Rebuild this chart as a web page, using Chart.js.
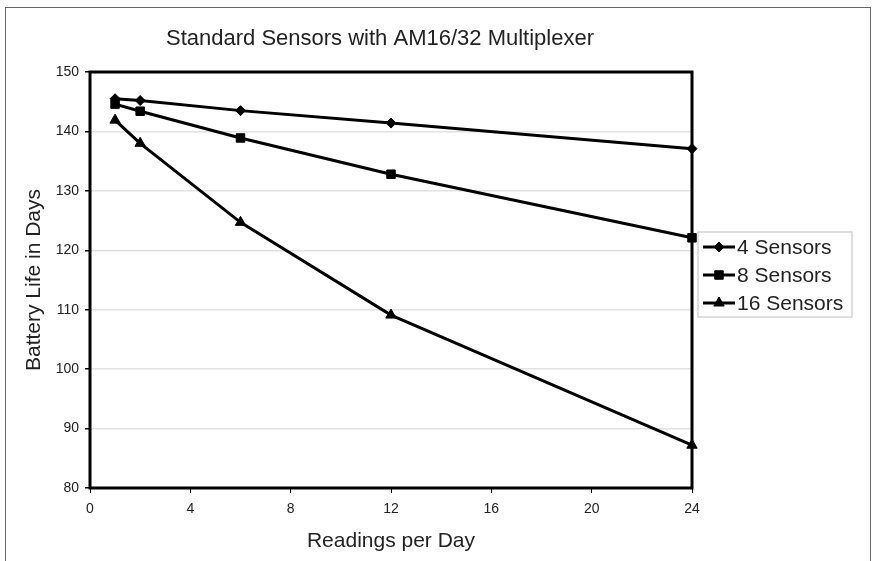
<!DOCTYPE html>
<html>
<head>
<meta charset="utf-8">
<script src="https://cdn.jsdelivr.net/npm/chart.js@4"></script>
<style>
  html, body { margin: 0; padding: 0; background: #fff; overflow: hidden; }
  #frame { position: absolute; left: 5px; top: 7px; width: 864px; height: 600px; border: 1px solid #666; pointer-events: none; }
</style>
</head>
<body>
<canvas id="chart" width="872" height="561"></canvas>
<div id="frame"></div>
<script>
const readings = [1, 2, 6, 12, 24];
const sensors4 = [145.5, 145.2, 143.5, 141.4, 137.1];
const sensors8 = [144.6, 143.4, 138.9, 132.8, 122.1];
const sensors16 = [141.9, 138.0, 124.7, 109.1, 87.2];
const seriesNames = ['4 Sensors', '8 Sensors', '16 Sensors'];
const markers = ['rectRot', 'rect', 'triangle'];
const markerSizes = [5, 6, 6];
const chartTitle = 'Standard Sensors with AM16/32 Multiplexer';

const FONT = '"Liberation Sans", Arial, sans-serif';

function points(values) {
  return readings.map((x, i) => ({ x: x, y: values[i] }));
}

// thick black box round the plot area
const plotFrame = {
  id: 'plotFrame',
  beforeDatasetsDraw(chart) {
    const { ctx, chartArea: a } = chart;
    ctx.save();
    ctx.strokeStyle = '#000';
    ctx.lineWidth = 3;
    ctx.strokeRect(a.left, a.top, a.right - a.left, a.bottom - a.top);
    ctx.restore();
  }
};

// title sits a bit left of the plot centre, like the original
const offsetTitle = {
  id: 'offsetTitle',
  afterDraw(chart) {
    const { ctx, chartArea } = chart;
    ctx.save();
    ctx.fillStyle = '#222';
    ctx.font = '22px ' + FONT;
    ctx.textAlign = 'center';
    ctx.textBaseline = 'alphabetic';
    ctx.fillText(chartTitle, chartArea.left + 290, chartArea.top - 27);
    ctx.restore();
  }
};

// boxed legend sitting just right of the plot
const boxLegend = {
  id: 'boxLegend',
  afterDraw(chart) {
    const { ctx, chartArea } = chart;
    const left = chartArea.right + 6, top = chartArea.top + 160, w = 154, h = 85;
    ctx.save();
    ctx.fillStyle = '#fff';
    ctx.fillRect(left, top, w, h);
    ctx.strokeStyle = '#d4d4d4';
    ctx.lineWidth = 1.5;
    ctx.strokeRect(left, top, w, h);
    chart.data.datasets.forEach((ds, i) => {
      const y = top + 15 + i * 28;
      ctx.strokeStyle = '#000';
      ctx.fillStyle = '#000';
      ctx.lineWidth = 3;
      ctx.beginPath();
      ctx.moveTo(left + 5, y);
      ctx.lineTo(left + 37, y);
      ctx.stroke();
      ctx.lineWidth = 1;
      Chart.helpers.drawPoint(ctx, { pointStyle: ds.pointStyle, radius: ds.pointRadius, borderWidth: 1 }, left + 21, y);
      ctx.fillStyle = '#222';
      ctx.font = '21px ' + FONT;
      ctx.textBaseline = 'middle';
      ctx.textAlign = 'left';
      ctx.fillText(ds.label, left + 39, y + 1);
    });
    ctx.restore();
  }
};

const seriesValues = [sensors4, sensors8, sensors16];

new Chart(document.getElementById('chart'), {
  type: 'scatter',
  data: {
    datasets: seriesNames.map((name, i) => ({
      label: name,
      data: points(seriesValues[i]),
      showLine: true,
      borderColor: '#000',
      backgroundColor: '#000',
      borderWidth: 3,
      pointStyle: markers[i],
      pointRadius: markerSizes[i],
      pointBorderWidth: 1,
      clip: false
    }))
  },
  options: {
    responsive: false,
    animation: false,
    layout: { padding: { left: 0, right: 180, top: 72, bottom: 0 } },
    plugins: {
      legend: { display: false },
      tooltip: { enabled: false },
      title: { display: false }
    },
    scales: {
      x: {
        type: 'linear',
        min: 0,
        max: 24,
        afterFit(s) { s.height = 73; },
        border: { display: false },
        grid: { drawOnChartArea: false, tickLength: 5, tickColor: '#000' },
        ticks: { stepSize: 4, padding: 8, color: '#222', font: { family: FONT, size: 14 } },
        title: {
          display: true,
          text: 'Readings per Day',
          color: '#222',
          font: { family: FONT, size: 21 },
          padding: { top: 0, bottom: 7 }
        }
      },
      y: {
        min: 80,
        max: 150,
        afterFit(s) { s.width = 90; },
        border: { display: false },
        grid: { color: '#e2e2e2', lineWidth: 1.5, tickLength: 5, tickColor: '#000' },
        ticks: { stepSize: 10, padding: 6, color: '#222', font: { family: FONT, size: 14 } },
        title: {
          display: true,
          text: 'Battery Life in Days',
          color: '#222',
          font: { family: FONT, size: 21 },
          padding: { top: 22, bottom: 0 }
        }
      }
    }
  },
  plugins: [plotFrame, offsetTitle, boxLegend]
});
</script>
</body>
</html>
